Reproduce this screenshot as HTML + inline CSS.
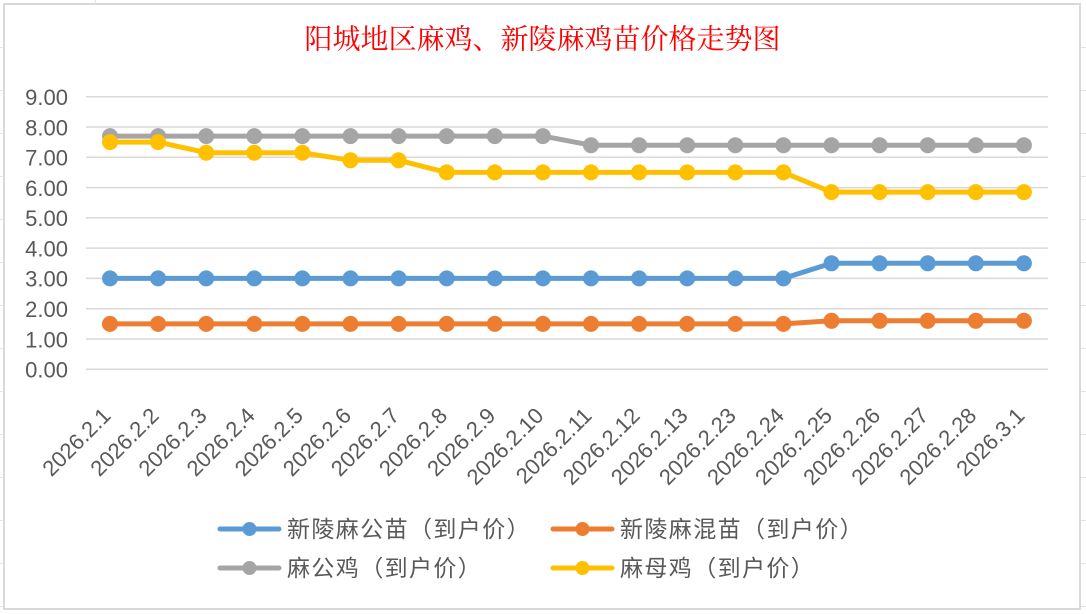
<!DOCTYPE html>
<html>
<head>
<meta charset="utf-8">
<style>
html,body{margin:0;padding:0;background:#fff;}
svg{display:block;}
</style>
</head>
<body>
<svg width="1086" height="614" viewBox="0 0 1086 614" xmlns="http://www.w3.org/2000/svg">
<rect x="0" y="0" width="1086" height="614" fill="#ffffff"/>
<!-- spreadsheet background lines -->
<g stroke="#e3e3e3" stroke-width="1">
<line x1="0" y1="47.5" x2="3" y2="47.5"/><line x1="0" y1="90.5" x2="3" y2="90.5"/><line x1="0" y1="133.5" x2="3" y2="133.5"/><line x1="0" y1="176.5" x2="3" y2="176.5"/><line x1="0" y1="219.5" x2="3" y2="219.5"/><line x1="0" y1="262.5" x2="3" y2="262.5"/><line x1="0" y1="305.5" x2="3" y2="305.5"/><line x1="0" y1="348.5" x2="3" y2="348.5"/><line x1="0" y1="391.5" x2="3" y2="391.5"/><line x1="0" y1="434.5" x2="3" y2="434.5"/><line x1="0" y1="477.5" x2="3" y2="477.5"/><line x1="0" y1="520.5" x2="3" y2="520.5"/><line x1="0" y1="563.5" x2="3" y2="563.5"/><line x1="0" y1="606.5" x2="3" y2="606.5"/>
<line x1="1081" y1="47.5" x2="1086" y2="47.5"/><line x1="1081" y1="90.5" x2="1086" y2="90.5"/><line x1="1081" y1="133.5" x2="1086" y2="133.5"/><line x1="1081" y1="176.5" x2="1086" y2="176.5"/><line x1="1081" y1="219.5" x2="1086" y2="219.5"/><line x1="1081" y1="262.5" x2="1086" y2="262.5"/><line x1="1081" y1="305.5" x2="1086" y2="305.5"/><line x1="1081" y1="348.5" x2="1086" y2="348.5"/><line x1="1081" y1="391.5" x2="1086" y2="391.5"/><line x1="1081" y1="434.5" x2="1086" y2="434.5"/><line x1="1081" y1="477.5" x2="1086" y2="477.5"/><line x1="1081" y1="520.5" x2="1086" y2="520.5"/><line x1="1081" y1="563.5" x2="1086" y2="563.5"/><line x1="1081" y1="606.5" x2="1086" y2="606.5"/>
<line x1="95.5" y1="0" x2="95.5" y2="3"/>
</g>
<!-- chart frame -->
<rect x="4" y="4" width="1076" height="605" fill="#ffffff" stroke="#d9d9d9" stroke-width="2"/>

<!-- title -->
<text x="542.5" y="40" text-anchor="middle" dominant-baseline="central" font-family="'Liberation Serif','Noto Serif CJK SC',serif" font-size="28" fill="#ff0000">阳城地区麻鸡、新陵麻鸡苗价格走势图</text>

<!-- gridlines -->
<g stroke="#d9d9d9" stroke-width="1.5">
<line x1="86" y1="96.7" x2="1048" y2="96.7"/>
<line x1="86" y1="127.0" x2="1048" y2="127.0"/>
<line x1="86" y1="157.3" x2="1048" y2="157.3"/>
<line x1="86" y1="187.6" x2="1048" y2="187.6"/>
<line x1="86" y1="217.8" x2="1048" y2="217.8"/>
<line x1="86" y1="248.1" x2="1048" y2="248.1"/>
<line x1="86" y1="278.4" x2="1048" y2="278.4"/>
<line x1="86" y1="308.7" x2="1048" y2="308.7"/>
<line x1="86" y1="339.0" x2="1048" y2="339.0"/>
<line x1="86" y1="369.3" x2="1048" y2="369.3"/>
</g>

<!-- y labels -->
<g font-family="'Liberation Sans',sans-serif" font-size="22" fill="#595959" text-anchor="end">
<text x="68" y="105">9.00</text>
<text x="68" y="135.3">8.00</text>
<text x="68" y="165.6">7.00</text>
<text x="68" y="195.9">6.00</text>
<text x="68" y="226.1">5.00</text>
<text x="68" y="256.4">4.00</text>
<text x="68" y="286.7">3.00</text>
<text x="68" y="317">2.00</text>
<text x="68" y="347.3">1.00</text>
<text x="68" y="377.6">0.00</text>
</g>

<!-- x labels -->
<g font-family="'Liberation Sans',sans-serif" font-size="22" fill="#595959" text-anchor="end">
<text transform="translate(112,417) rotate(-45)">2026.2.1</text>
<text transform="translate(160.1,417) rotate(-45)">2026.2.2</text>
<text transform="translate(208.2,417) rotate(-45)">2026.2.3</text>
<text transform="translate(256.3,417) rotate(-45)">2026.2.4</text>
<text transform="translate(304.4,417) rotate(-45)">2026.2.5</text>
<text transform="translate(352.5,417) rotate(-45)">2026.2.6</text>
<text transform="translate(400.6,417) rotate(-45)">2026.2.7</text>
<text transform="translate(448.7,417) rotate(-45)">2026.2.8</text>
<text transform="translate(496.8,417) rotate(-45)">2026.2.9</text>
<text transform="translate(544.9,417) rotate(-45)">2026.2.10</text>
<text transform="translate(593,417) rotate(-45)">2026.2.11</text>
<text transform="translate(641.1,417) rotate(-45)">2026.2.12</text>
<text transform="translate(689.2,417) rotate(-45)">2026.2.13</text>
<text transform="translate(737.3,417) rotate(-45)">2026.2.23</text>
<text transform="translate(785.4,417) rotate(-45)">2026.2.24</text>
<text transform="translate(833.5,417) rotate(-45)">2026.2.25</text>
<text transform="translate(881.6,417) rotate(-45)">2026.2.26</text>
<text transform="translate(929.7,417) rotate(-45)">2026.2.27</text>
<text transform="translate(977.8,417) rotate(-45)">2026.2.28</text>
<text transform="translate(1025.9,417) rotate(-45)">2026.3.1</text>
</g>

<!-- blue series -->
<g fill="#5b9bd5">
<polyline fill="none" stroke="#5b9bd5" stroke-width="5" stroke-linejoin="round" points="110,278.4 158.1,278.4 206.2,278.4 254.3,278.4 302.4,278.4 350.5,278.4 398.6,278.4 446.7,278.4 494.8,278.4 542.9,278.4 591,278.4 639.1,278.4 687.2,278.4 735.3,278.4 783.4,278.4 831.5,263.3 879.6,263.3 927.7,263.3 975.8,263.3 1023.9,263.3"/>
<circle cx="110" cy="278.4" r="8"/><circle cx="158.1" cy="278.4" r="8"/><circle cx="206.2" cy="278.4" r="8"/><circle cx="254.3" cy="278.4" r="8"/><circle cx="302.4" cy="278.4" r="8"/><circle cx="350.5" cy="278.4" r="8"/><circle cx="398.6" cy="278.4" r="8"/><circle cx="446.7" cy="278.4" r="8"/><circle cx="494.8" cy="278.4" r="8"/><circle cx="542.9" cy="278.4" r="8"/><circle cx="591" cy="278.4" r="8"/><circle cx="639.1" cy="278.4" r="8"/><circle cx="687.2" cy="278.4" r="8"/><circle cx="735.3" cy="278.4" r="8"/><circle cx="783.4" cy="278.4" r="8"/><circle cx="831.5" cy="263.3" r="8"/><circle cx="879.6" cy="263.3" r="8"/><circle cx="927.7" cy="263.3" r="8"/><circle cx="975.8" cy="263.3" r="8"/><circle cx="1023.9" cy="263.3" r="8"/>
</g>

<!-- orange series -->
<g fill="#ed7d31">
<polyline fill="none" stroke="#ed7d31" stroke-width="5" stroke-linejoin="round" points="110,323.9 158.1,323.9 206.2,323.9 254.3,323.9 302.4,323.9 350.5,323.9 398.6,323.9 446.7,323.9 494.8,323.9 542.9,323.9 591,323.9 639.1,323.9 687.2,323.9 735.3,323.9 783.4,323.9 831.5,320.8 879.6,320.8 927.7,320.8 975.8,320.8 1023.9,320.8"/>
<circle cx="110" cy="323.9" r="8"/><circle cx="158.1" cy="323.9" r="8"/><circle cx="206.2" cy="323.9" r="8"/><circle cx="254.3" cy="323.9" r="8"/><circle cx="302.4" cy="323.9" r="8"/><circle cx="350.5" cy="323.9" r="8"/><circle cx="398.6" cy="323.9" r="8"/><circle cx="446.7" cy="323.9" r="8"/><circle cx="494.8" cy="323.9" r="8"/><circle cx="542.9" cy="323.9" r="8"/><circle cx="591" cy="323.9" r="8"/><circle cx="639.1" cy="323.9" r="8"/><circle cx="687.2" cy="323.9" r="8"/><circle cx="735.3" cy="323.9" r="8"/><circle cx="783.4" cy="323.9" r="8"/><circle cx="831.5" cy="320.8" r="8"/><circle cx="879.6" cy="320.8" r="8"/><circle cx="927.7" cy="320.8" r="8"/><circle cx="975.8" cy="320.8" r="8"/><circle cx="1023.9" cy="320.8" r="8"/>
</g>

<!-- gray series -->
<g fill="#a5a5a5">
<polyline fill="none" stroke="#a5a5a5" stroke-width="5" stroke-linejoin="round" points="110,136.1 158.1,136.1 206.2,136.1 254.3,136.1 302.4,136.1 350.5,136.1 398.6,136.1 446.7,136.1 494.8,136.1 542.9,136.1 591,145.2 639.1,145.2 687.2,145.2 735.3,145.2 783.4,145.2 831.5,145.2 879.6,145.2 927.7,145.2 975.8,145.2 1023.9,145.2"/>
<circle cx="110" cy="136.1" r="8"/><circle cx="158.1" cy="136.1" r="8"/><circle cx="206.2" cy="136.1" r="8"/><circle cx="254.3" cy="136.1" r="8"/><circle cx="302.4" cy="136.1" r="8"/><circle cx="350.5" cy="136.1" r="8"/><circle cx="398.6" cy="136.1" r="8"/><circle cx="446.7" cy="136.1" r="8"/><circle cx="494.8" cy="136.1" r="8"/><circle cx="542.9" cy="136.1" r="8"/><circle cx="591" cy="145.2" r="8"/><circle cx="639.1" cy="145.2" r="8"/><circle cx="687.2" cy="145.2" r="8"/><circle cx="735.3" cy="145.2" r="8"/><circle cx="783.4" cy="145.2" r="8"/><circle cx="831.5" cy="145.2" r="8"/><circle cx="879.6" cy="145.2" r="8"/><circle cx="927.7" cy="145.2" r="8"/><circle cx="975.8" cy="145.2" r="8"/><circle cx="1023.9" cy="145.2" r="8"/>
</g>

<!-- yellow series -->
<g fill="#ffc000">
<polyline fill="none" stroke="#ffc000" stroke-width="5" stroke-linejoin="round" points="110,142.1 158.1,142.1 206.2,152.7 254.3,152.7 302.4,152.7 350.5,160.3 398.6,160.3 446.7,172.4 494.8,172.4 542.9,172.4 591,172.4 639.1,172.4 687.2,172.4 735.3,172.4 783.4,172.4 831.5,192.1 879.6,192.1 927.7,192.1 975.8,192.1 1023.9,192.1"/>
<circle cx="110" cy="142.1" r="8"/><circle cx="158.1" cy="142.1" r="8"/><circle cx="206.2" cy="152.7" r="8"/><circle cx="254.3" cy="152.7" r="8"/><circle cx="302.4" cy="152.7" r="8"/><circle cx="350.5" cy="160.3" r="8"/><circle cx="398.6" cy="160.3" r="8"/><circle cx="446.7" cy="172.4" r="8"/><circle cx="494.8" cy="172.4" r="8"/><circle cx="542.9" cy="172.4" r="8"/><circle cx="591" cy="172.4" r="8"/><circle cx="639.1" cy="172.4" r="8"/><circle cx="687.2" cy="172.4" r="8"/><circle cx="735.3" cy="172.4" r="8"/><circle cx="783.4" cy="172.4" r="8"/><circle cx="831.5" cy="192.1" r="8"/><circle cx="879.6" cy="192.1" r="8"/><circle cx="927.7" cy="192.1" r="8"/><circle cx="975.8" cy="192.1" r="8"/><circle cx="1023.9" cy="192.1" r="8"/>
</g>

<!-- legend -->
<g stroke-width="5" stroke-linecap="round">
<line x1="220" y1="529" x2="279" y2="529" stroke="#5b9bd5"/>
<line x1="553" y1="529" x2="612" y2="529" stroke="#ed7d31"/>
<line x1="220" y1="568" x2="279" y2="568" stroke="#a5a5a5"/>
<line x1="553" y1="568" x2="612" y2="568" stroke="#ffc000"/>
</g>
<circle cx="249.5" cy="529" r="7" fill="#5b9bd5"/>
<circle cx="582.5" cy="529" r="7" fill="#ed7d31"/>
<circle cx="249.5" cy="568" r="7" fill="#a5a5a5"/>
<circle cx="582.5" cy="568" r="7" fill="#ffc000"/>
<g font-family="'Liberation Sans','Noto Sans CJK SC',sans-serif" font-size="23" fill="#595959" letter-spacing="1.4" dominant-baseline="central">
<text x="287" y="529">新陵麻公苗（到户价）</text>
<text x="620" y="529">新陵麻混苗（到户价）</text>
<text x="287" y="568">麻公鸡（到户价）</text>
<text x="620" y="568">麻母鸡（到户价）</text>
</g>
</svg>
</body>
</html>
